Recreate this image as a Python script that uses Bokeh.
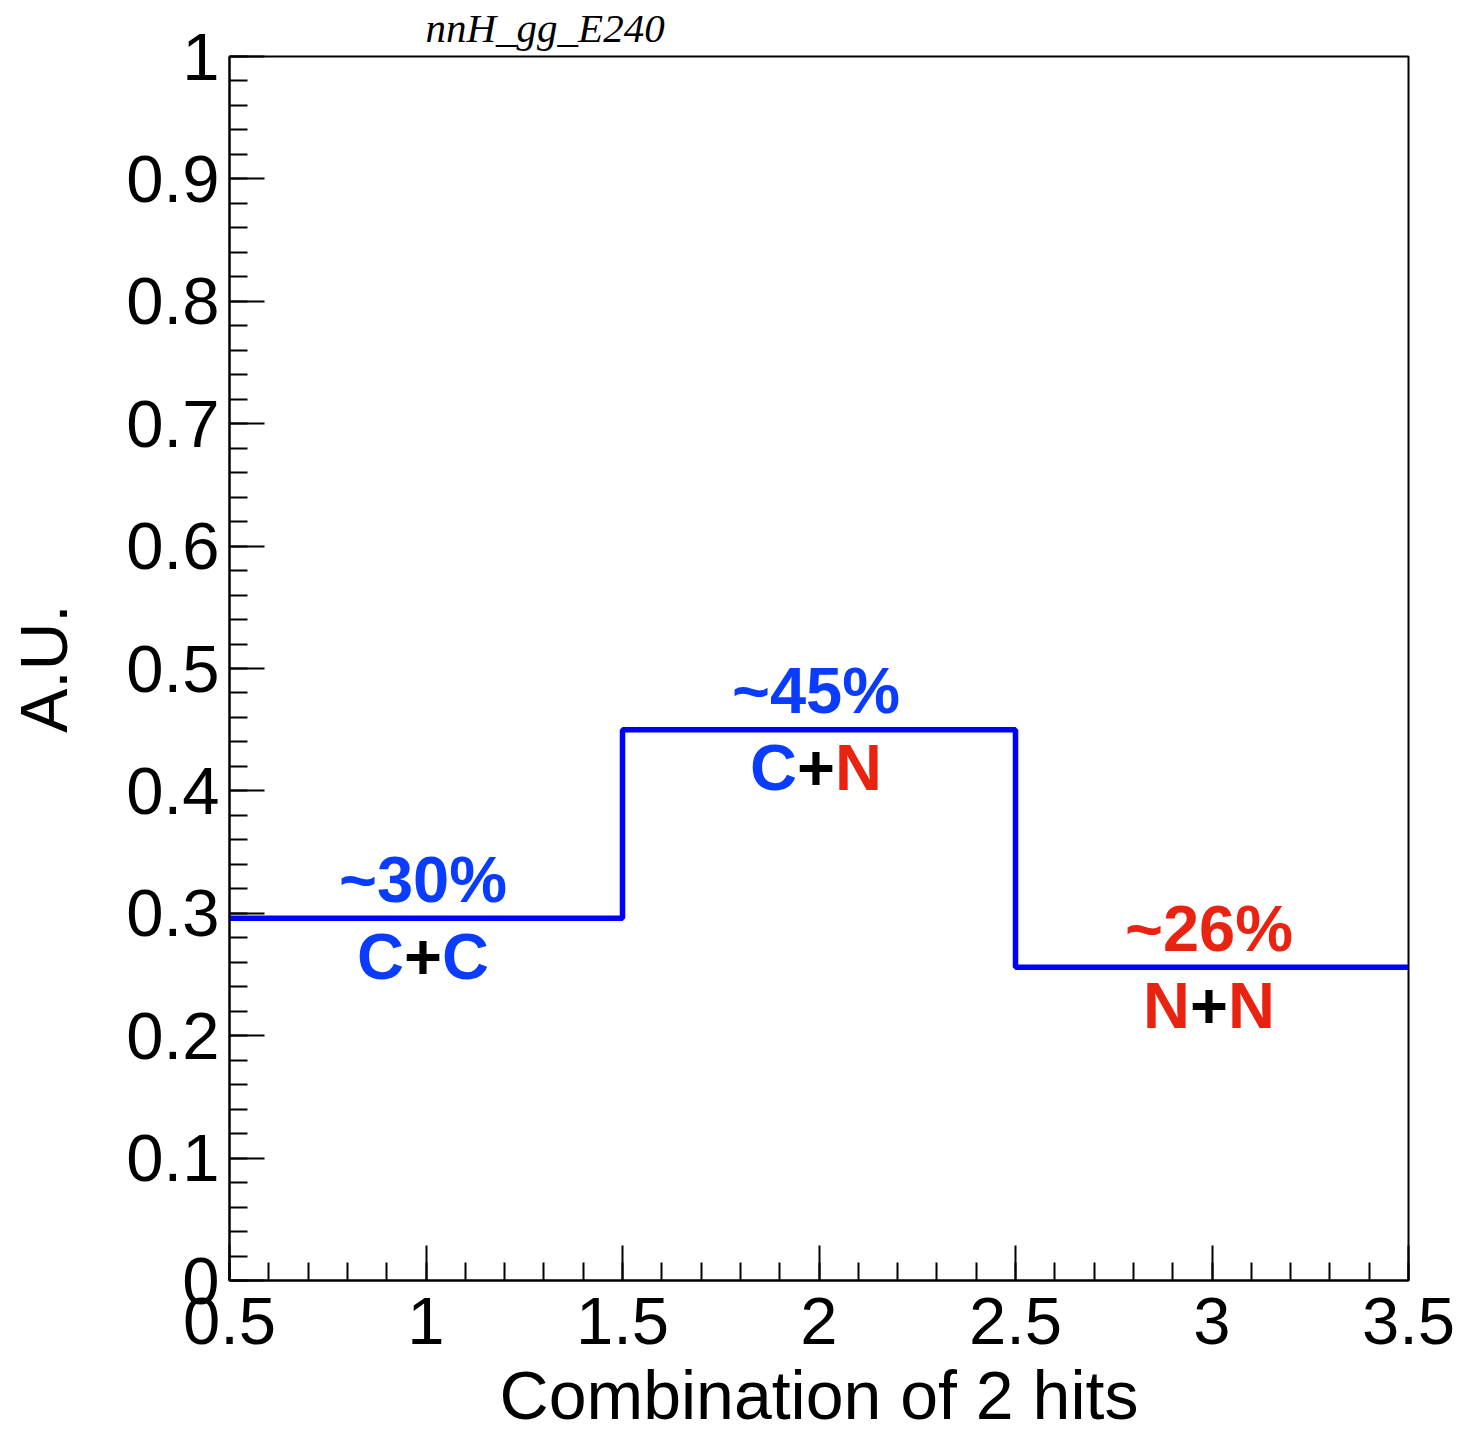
from bokeh.plotting import figure
from bokeh.models import Range1d, SingleIntervalTicker, CustomJSTickFormatter, Title
from bokeh.core.properties import value
from bokeh.embed import file_html
from bokeh.resources import INLINE

# ---- data ----
bin_edges = [0.5, 1.5, 2.5, 3.5]
bin_centers = [1.0, 2.0, 3.0]
bin_values = [0.296, 0.450, 0.256]
pct_labels = ["~30%", "~45%", "~26%"]
pct_colors = ["#0a3cff", "#0a3cff", "#ea2210"]
combo_left = ["C", "C", "N"]
combo_right = ["C", "N", "N"]
combo_left_colors = ["#0a3cff", "#0a3cff", "#ea2210"]
combo_right_colors = ["#0a3cff", "#ea2210", "#ea2210"]
title_text = "nnH_gg_E240"
x_title = "Combination of 2 hits"
y_title = "A.U."

BLUE_LINE = "#0000ff"
SANS = value("Liberation Sans")

p = figure(frame_width=1179, frame_height=1224,
           x_range=Range1d(0.5, 3.5), y_range=Range1d(0, 1),
           output_backend="svg", toolbar_location=None,
           min_border_left=229, min_border_top=56, min_border_right=52,
           min_border_bottom=151, background_fill_color="white",
           border_fill_color="white")
p.outline_line_color = "black"
p.outline_line_width = 2
p.xgrid.visible = False
p.ygrid.visible = False

fmt = CustomJSTickFormatter(code="return Number(tick.toFixed(2)).toString();")
p.xaxis.ticker = SingleIntervalTicker(interval=0.5, num_minor_ticks=5)
p.yaxis.ticker = SingleIntervalTicker(interval=0.1, num_minor_ticks=5)
for ax in (p.xaxis[0], p.yaxis[0]):
    ax.formatter = fmt
    ax.major_tick_in = 35
    ax.major_tick_out = 0
    ax.minor_tick_in = 18
    ax.minor_tick_out = 0
    ax.axis_line_width = 2
    ax.major_tick_line_width = 2
    ax.minor_tick_line_width = 2
    ax.major_label_text_font = "Liberation Sans"
    ax.major_label_text_font_size = "67px"
    ax.major_label_text_color = "black"
    ax.axis_label_text_font = "Liberation Sans"
    ax.axis_label_text_font_style = "normal"
    ax.axis_label_text_color = "black"

p.xaxis.axis_label = x_title
p.yaxis.axis_label = y_title
p.xaxis.axis_label_text_font_size = "68px"
p.yaxis.axis_label_text_font_size = "66px"
p.xaxis.major_label_standoff = 17
p.xaxis.axis_label_standoff = 10
p.yaxis.major_label_standoff = 10
p.yaxis.axis_label_standoff = 42

t = Title(text=title_text, align="left", offset=196, standoff=8,
          vertical_align="top",
          text_font="Liberation Serif", text_font_style="italic",
          text_font_size="41px", text_color="black")
p.add_layout(t, "above")

# histogram outline
step_y = bin_values + [bin_values[-1]]
p.step(x=bin_edges, y=step_y, mode="after", line_color=BLUE_LINE, line_width=5.5)

# percentage labels
p.text(x=bin_centers, y=bin_values, text=pct_labels, text_color=pct_colors,
       text_font=SANS, text_font_style="bold", text_font_size="65px",
       text_align="center", text_baseline="alphabetic", y_offset=-39, x_offset=-3)

# combination labels (coloured parts)
p.text(x=bin_centers, y=bin_values, text=["+"] * 3, text_color="black",
       text_font=SANS, text_font_style="bold", text_font_size="65px",
       text_align="center", text_baseline="alphabetic", y_offset=38, x_offset=-3)
p.text(x=bin_centers, y=bin_values, text=combo_left, text_color=combo_left_colors,
       text_font=SANS, text_font_style="bold", text_font_size="65px",
       text_align="right", text_baseline="alphabetic", y_offset=38, x_offset=-22)
p.text(x=bin_centers, y=bin_values, text=combo_right, text_color=combo_right_colors,
       text_font=SANS, text_font_style="bold", text_font_size="65px",
       text_align="left", text_baseline="alphabetic", y_offset=38, x_offset=16)

open("out.html", "w").write(file_html(p, INLINE))
